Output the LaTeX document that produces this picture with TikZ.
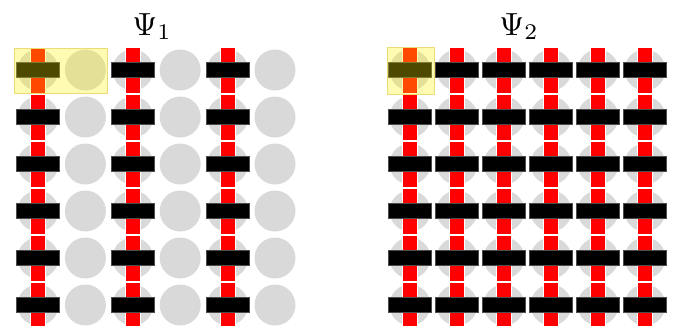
\documentclass[tikz,border=0pt]{standalone}
\usepackage{graphicx}
\definecolor{sitegray}{RGB}{217,217,217}
\definecolor{hlborder}{RGB}{235,220,120}
\tikzset{
  sitedisc/.style={fill=sitegray, draw=none},
  redbar/.style={fill=red, draw=white, line width=0.8pt},
  blackbar/.style={fill=black, draw=black!70, line width=0.4pt},
  highlight/.style={fill=yellow, fill opacity=0.3, draw=hlborder, line width=0.6pt},
  title/.style={inner sep=0pt, anchor=base}
}
\begin{document}
\begin{tikzpicture}[x=1pt,y=-1pt]
\useasboundingbox (0,0) rectangle (674,325);
% ---------- left lattice (Psi_1)
\foreach \i in {0,...,5}{
  \foreach \j in {0,...,5}{
    \pgfmathsetmacro{\cx}{38+47.4*\i}
    \pgfmathsetmacro{\cy}{70+47*\j}
    \fill[sitedisc] (\cx,\cy) circle (20.5);
  }
}
\foreach \i in {0,2,4}{
  \foreach \j in {0,...,5}{
    \pgfmathsetmacro{\cx}{38+47.4*\i}
    \pgfmathsetmacro{\cy}{70+47*\j}
    \path[redbar] (\cx-7.5,\cy-23) rectangle (\cx+7.5,\cy+23);
  }
  \foreach \j in {0,...,5}{
    \pgfmathsetmacro{\cx}{38+47.4*\i}
    \pgfmathsetmacro{\cy}{70+47*\j}
    \path[blackbar] (\cx-21.5,\cy-7.5) rectangle (\cx+21.5,\cy+7.5);
  }
}
\path[highlight] (14,48) rectangle (107,93);
\node[title] (t1) at (152,35) {\scalebox{3.2}{$\Psi_1$}};
% ---------- right lattice (Psi_2)
\foreach \i in {0,...,5}{
  \foreach \j in {0,...,5}{
    \pgfmathsetmacro{\cx}{410+47*\i}
    \pgfmathsetmacro{\cy}{70+47*\j}
    \fill[sitedisc] (\cx,\cy) circle (20.5);
  }
}
\foreach \i in {0,...,5}{
  \foreach \j in {0,...,5}{
    \pgfmathsetmacro{\cx}{410+47*\i}
    \pgfmathsetmacro{\cy}{70+47*\j}
    \path[redbar] (\cx-7.5,\cy-23) rectangle (\cx+7.5,\cy+23);
  }
}
\foreach \i in {0,...,5}{
  \foreach \j in {0,...,5}{
    \pgfmathsetmacro{\cx}{410+47*\i}
    \pgfmathsetmacro{\cy}{70+47*\j}
    \path[blackbar] (\cx-21.5,\cy-7.5) rectangle (\cx+21.5,\cy+7.5);
  }
}
\path[highlight] (387,47) rectangle (434,94);
\node[title] (t2) at (519,35) {\scalebox{3.2}{$\Psi_2$}};
\end{tikzpicture}
\end{document}
